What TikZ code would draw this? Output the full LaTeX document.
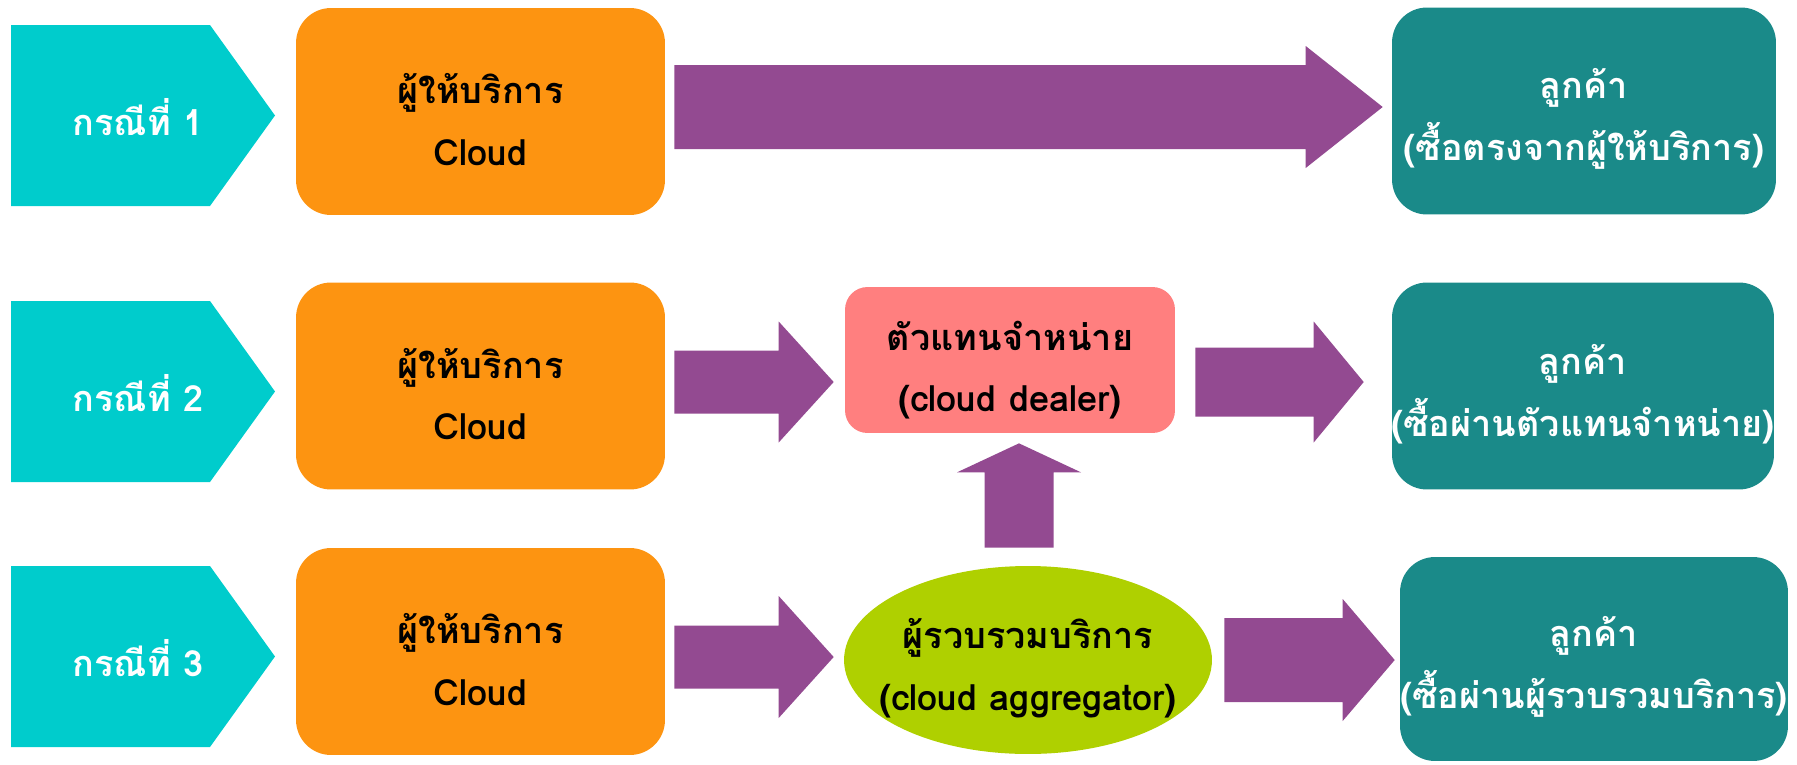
\documentclass[tikz,border=0pt]{standalone}
\usepackage{fontspec}
\newfontfamily\thaifont[Script=Thai]{Loma}
\usetikzlibrary{calc,shapes.geometric}

\definecolor{casecyan}{RGB}{0,204,204}
\definecolor{provorange}{RGB}{253,148,17}
\definecolor{flowpurple}{RGB}{147,74,145}
\definecolor{custteal}{RGB}{26,138,137}
\definecolor{dealerpink}{RGB}{255,127,127}
\definecolor{aggrlime}{RGB}{175,208,0}

\tikzset{
  label text/.style={font=\thaifont\bfseries\fontsize{20.5}{35}\selectfont, align=center, yshift=-0.16cm},
  provider/.style={fill=provorange, rounded corners=0.7cm,
    minimum width=7.38cm, minimum height=4.14cm, inner sep=0pt},
  customer/.style={fill=custteal, rounded corners=0.7cm,
    minimum height=4.14cm, inner sep=0pt},
  dealer/.style={fill=dealerpink, rounded corners=0.45cm,
    minimum width=6.6cm, minimum height=2.92cm, inner sep=0pt},
  aggregator/.style={ellipse, fill=aggrlime,
    minimum width=7.36cm, minimum height=3.76cm, inner sep=0pt},
  casetag/.style={font=\thaifont\bfseries\fontsize{20.5}{31}\selectfont, text=white},
}

% block arrow: start, tip, shaft half width, head half width, head length
\newcommand{\harrow}[5]{%
  \coordinate (ha) at (#1);
  \coordinate (hx) at (#2);
  \coordinate (hb) at (ha -| hx);
  \fill[flowpurple] ($(ha)+(0,#3)$) -- ($(hb)+(-#5,#3)$) -- ($(hb)+(-#5,#4)$) -- (hb)
    -- ($(hb)+(-#5,-#4)$) -- ($(hb)+(-#5,-#3)$) -- ($(ha)+(0,-#3)$) -- cycle;}

\begin{document}
\begin{tikzpicture}[x=0.02cm,y=-0.02cm]
  \useasboundingbox (0,0) rectangle (1797,764);

  % case tags
  \foreach \y/\n in {25/1,301/2,566/3}{
    \fill[casecyan] (11,\y) -- (210,\y) -- (275,\y+90.5) -- (210,\y+181) -- (11,\y+181) -- cycle;
    \node[casetag] (case\n) at (138,\y+92) {กรณีที่ \n};
  }

  % providers
  \foreach \y/\n in {111.5/1,386/2,651.5/3}{
    \node[provider] (prov\n) at (480.5,\y) {};
    \node[label text] (provtext\n) at (prov\n) {ผู้ให้บริการ\\Cloud};
  }

  % middlemen
  \node[dealer] (dealer) at (1010,360) {};
  \node[label text, yshift=-0.04cm] (dealertext) at (dealer) {ตัวแทนจำหน่าย\\(cloud dealer)};
  \node[aggregator] (aggr) at (1028,660) {};
  \node[label text] (aggrtext) at (aggr) {ผู้รวบรวมบริการ\\(cloud aggregator)};

  % customers
  \node[customer, minimum width=7.68cm] (cust1) at (1584,111) {};
  \node[label text, text=white] (custtext1) at (cust1) {ลูกค้า\\(ซื้อตรงจากผู้ให้บริการ)};
  \node[customer, minimum width=7.64cm] (cust2) at (1583,386) {};
  \node[label text, text=white] (custtext2) at (cust2) {ลูกค้า\\(ซื้อผ่านตัวแทนจำหน่าย)};
  \node[customer, minimum width=7.76cm, minimum height=4.08cm] (cust3) at (1594,659) {};
  \node[label text, text=white] (custtext3) at (cust3) {ลูกค้า\\(ซื้อผ่านผู้รวบรวมบริการ)};

  % flows
  \harrow{$(prov1.east)+(9,-4.5)$}{$(cust1.west)+(-9,0)$}{42}{61}{77}
  \harrow{$(prov2.east)+(9,-4)$}{$(dealer.west)+(-11,0)$}{31.5}{60.5}{55}
  \harrow{$(dealer.east)+(20,22)$}{$(cust2.west)+(-28,0)$}{34.5}{60.5}{50}
  \harrow{$(prov3.east)+(9,5.5)$}{$(aggr.west)+(-10,0)$}{31.5}{61}{55}
  \harrow{$(aggr.east)+(12,0)$}{$(cust3.west)+(-5,0)$}{42}{61}{52}

  % aggregator up to dealer
  \coordinate (ub) at ($(aggr.north)+(-9,-18)$);
  \coordinate (ut) at ($(dealer.south)+(9,10)$);
  \fill[flowpurple] ($(ub)+(-34.5,0)$) -- ($(ub |- ut)+(-34.5,29)$) -- ($(ub |- ut)+(-62,29)$)
    -- (ub |- ut) -- ($(ub |- ut)+(62,29)$) -- ($(ub |- ut)+(34.5,29)$) -- ($(ub)+(34.5,0)$) -- cycle;
\end{tikzpicture}
\end{document}
